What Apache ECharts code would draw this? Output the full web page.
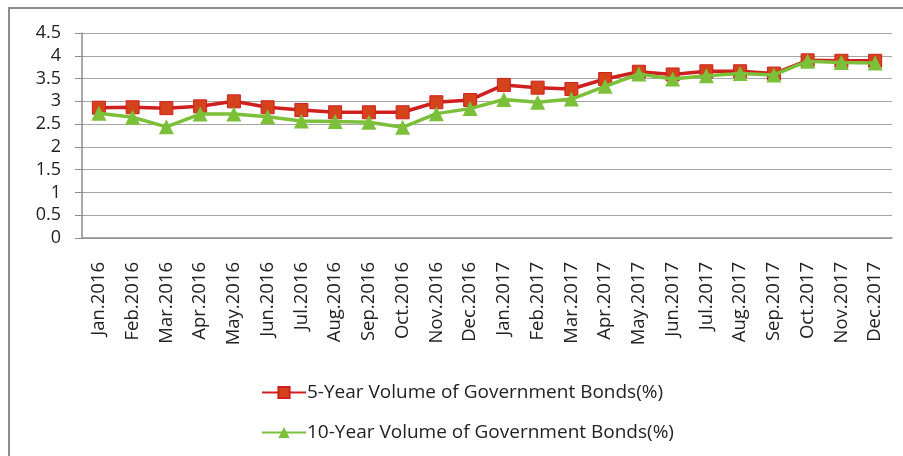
<!DOCTYPE html>
<html>
<head>
<meta charset="utf-8">
<script src="https://cdn.jsdelivr.net/npm/echarts@6/dist/echarts.min.js"></script>
<style>
  html, body { margin: 0; padding: 0; background: #ffffff; }
  #chart { width: 903px; height: 456px; }
</style>
</head>
<body>
<div id="chart"></div>
<script>
// Monthly categories, Jan 2016 – Dec 2017
const months = [
  'Jan.2016', 'Feb.2016', 'Mar.2016', 'Apr.2016', 'May.2016', 'Jun.2016',
  'Jul.2016', 'Aug.2016', 'Sep.2016', 'Oct.2016', 'Nov.2016', 'Dec.2016',
  'Jan.2017', 'Feb.2017', 'Mar.2017', 'Apr.2017', 'May.2017', 'Jun.2017',
  'Jul.2017', 'Aug.2017', 'Sep.2017', 'Oct.2017', 'Nov.2017', 'Dec.2017'
];

// 5-year government bond yields (%)
const fiveYear = [
  2.86, 2.87, 2.85, 2.89, 3.00, 2.87, 2.81, 2.76, 2.76, 2.76, 2.98, 3.03,
  3.36, 3.30, 3.27, 3.49, 3.65, 3.59, 3.66, 3.66, 3.61, 3.90, 3.89, 3.89
];

// 10-year government bond yields (%)
const tenYear = [
  2.74, 2.65, 2.44, 2.72, 2.72, 2.66, 2.57, 2.56, 2.54, 2.43, 2.73, 2.84,
  3.04, 2.98, 3.05, 3.33, 3.60, 3.49, 3.56, 3.61, 3.58, 3.88, 3.85, 3.84
];

const seriesNames = [
  '5-Year Volume of Government Bonds(%)',
  '10-Year Volume of Government Bonds(%)'
];

const FONT = '"Open Sans", "Noto Sans", sans-serif';
const chart = echarts.init(document.getElementById('chart'), null, { renderer: 'canvas' });

chart.setOption({
  animation: false,
  backgroundColor: '#ffffff',
  graphic: [{
    type: 'rect',
    shape: { x: 9, y: 8, width: 910, height: 470 },
    style: { fill: 'none', stroke: '#8a8d90', lineWidth: 2 },
    silent: true,
    z: -1
  }],
  grid: { left: 82, right: 11, top: 33, bottom: 218 },
  legend: {
    orient: 'vertical',
    left: 256,
    top: 378,
    itemGap: 21,
    itemWidth: 44,
    itemHeight: 14,
    textStyle: { fontFamily: FONT, fontSize: 19, color: '#222222', padding: [0, 0, 0, -4] },
    data: seriesNames
  },
  xAxis: {
    type: 'category',
    data: months,
    boundaryGap: true,
    axisLine: { lineStyle: { color: '#8c8c8c', width: 1.5 } },
    axisTick: { inside: true, length: 6, lineStyle: { color: '#8c8c8c' } },
    axisLabel: {
      rotate: 90,
      interval: 0,
      margin: 24,
      fontFamily: FONT,
      fontSize: 18.5,
      color: '#222222'
    },
    splitLine: { show: false }
  },
  yAxis: {
    type: 'value',
    min: 0,
    max: 4.5,
    interval: 0.5,
    axisLine: { show: true, lineStyle: { color: '#8c8c8c', width: 1.5 } },
    axisTick: { show: true, length: 7, lineStyle: { color: '#8c8c8c' } },
    axisLabel: {
      margin: 21,
      fontFamily: FONT,
      fontSize: 18,
      color: '#222222'
    },
    splitLine: { lineStyle: { color: '#a6a6a6', width: 1.2 } }
  },
  series: [
    {
      name: seriesNames[0],
      type: 'line',
      data: fiveYear,
      symbol: 'rect',
      symbolSize: 13,
      lineStyle: { color: '#d01f1f', width: 3.5 },
      itemStyle: { color: '#d4431c', borderColor: '#d01f1f', borderWidth: 1 },
      z: 2
    },
    {
      name: seriesNames[1],
      type: 'line',
      data: tenYear,
      symbol: 'triangle',
      symbolSize: 15,
      lineStyle: { color: '#7cc03a', width: 3.5 },
      itemStyle: { color: '#7cc03a', borderColor: '#7cc03a', borderWidth: 0 },
      z: 3
    }
  ]
});
</script>
</body>
</html>
